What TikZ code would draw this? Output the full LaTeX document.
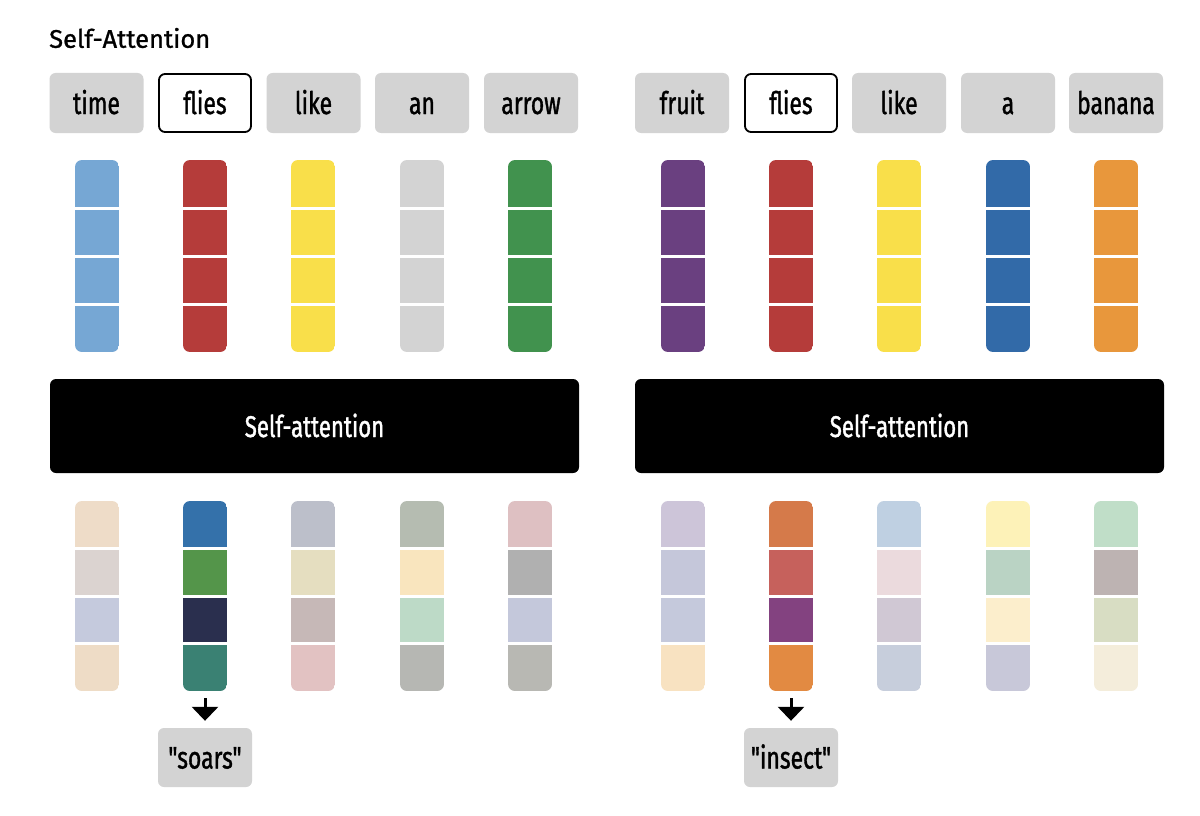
\documentclass[tikz,border=0pt]{standalone}
\usepackage{fontspec}
\setmainfont{Fira Sans}
\newfontfamily\titlefont[FakeBold=1.0]{Fira Sans}
\newfontfamily\condfont[FakeStretch=0.74, FakeBold=1.2]{Fira Sans}
\usetikzlibrary{arrows.meta}
\definecolor{tokgray}{HTML}{D3D3D3}
\tikzset{
  tokbox/.style={fill=tokgray, rounded corners=6pt, minimum width=94pt, minimum height=60pt,
    inner sep=0pt, text height=24pt, text depth=2pt, font=\condfont\fontsize{31}{31}\selectfont},
  hlbox/.style={tokbox, fill=white, draw=black, line width=1.8pt, minimum width=92pt, minimum height=58pt},
  attbox/.style={fill=black, rounded corners=6pt, minimum width=529pt, minimum height=94pt,
    text=white, inner sep=0pt, text height=24pt, text depth=2pt, font=\condfont\fontsize{30}{30}\selectfont},
  outarrow/.style={line width=3pt, -{Triangle[width=26pt,length=14pt]}, shorten <=7pt, shorten >=7pt},
}
% #1 name, #2 x center, #3 top y, #4 height, #5-#8 colours (top to bottom)
\newcommand\vectcol[8]{%
  \definecolor{vca}{HTML}{#5}\definecolor{vcb}{HTML}{#6}%
  \definecolor{vcc}{HTML}{#7}\definecolor{vcd}{HTML}{#8}%
  \begin{scope}
    \clip[rounded corners=7pt] (#2-22,#3) rectangle (#2+22,#3+#4);
    \fill[vca] (#2-22,#3) rectangle (#2+22,#3+#4/4);
    \fill[vcb] (#2-22,#3+#4/4) rectangle (#2+22,#3+#4/2);
    \fill[vcc] (#2-22,#3+#4/2) rectangle (#2+22,#3+3*#4/4);
    \fill[vcd] (#2-22,#3+3*#4/4) rectangle (#2+22,#3+#4);
    \draw[white, line width=3pt] (#2-23,#3+#4/4) -- (#2+23,#3+#4/4)
      (#2-23,#3+#4/2) -- (#2+23,#3+#4/2) (#2-23,#3+3*#4/4) -- (#2+23,#3+3*#4/4);
  \end{scope}
  \node[inner sep=0pt, minimum width=44pt, minimum height=#4 pt] (#1) at (#2,#3+#4/2) {};
}
\begin{document}
\begin{tikzpicture}[x=1pt,y=-1pt]
\useasboundingbox[fill=white] (0,0) rectangle (1200,816);
\node[anchor=west, inner sep=0pt, font=\titlefont\fontsize{25.5}{25.5}\selectfont] (title) at (49,38) {Self-Attention};
% tokens left
\node[tokbox] (t1) at (96.5,103) {time};
\node[hlbox]  (t2) at (205,103) {flies};
\node[tokbox] (t3) at (313.5,103) {like};
\node[tokbox] (t4) at (422,103) {an};
\node[tokbox] (t5) at (531,103) {arrow};
% tokens right
\node[tokbox] (r1) at (682,103) {fruit};
\node[hlbox]  (r2) at (791,103) {flies};
\node[tokbox] (r3) at (899,103) {like};
\node[tokbox] (r4) at (1008,103) {a};
\node[tokbox] (r5) at (1116,103) {banana};
% input vectors left
\vectcol{iv1}{97}{160}{192}{76A7D4}{76A7D4}{76A7D4}{76A7D4}
\vectcol{iv2}{205}{160}{192}{B53C3A}{B53C3A}{B53C3A}{B53C3A}
\vectcol{iv3}{313}{160}{192}{F9DF4A}{F9DF4A}{F9DF4A}{F9DF4A}
\vectcol{iv4}{422}{160}{192}{D3D3D3}{D3D3D3}{D3D3D3}{D3D3D3}
\vectcol{iv5}{530}{160}{192}{41924E}{41924E}{41924E}{41924E}
% input vectors right
\vectcol{jv1}{683}{160}{192}{6A4080}{6A4080}{6A4080}{6A4080}
\vectcol{jv2}{791}{160}{192}{B53C3A}{B53C3A}{B53C3A}{B53C3A}
\vectcol{jv3}{899}{160}{192}{F9DF4A}{F9DF4A}{F9DF4A}{F9DF4A}
\vectcol{jv4}{1008}{160}{192}{326AA8}{326AA8}{326AA8}{326AA8}
\vectcol{jv5}{1116}{160}{192}{E8973C}{E8973C}{E8973C}{E8973C}
% self-attention blocks
\node[attbox] (sa1) at (314.5,426) {Self-attention};
\node[attbox] (sa2) at (899.5,426) {Self-attention};
% output vectors left
\vectcol{ov1}{97}{501}{190}{EEDCC8}{DBD3D0}{C5CADD}{EEDCC6}
\vectcol{ov2}{205}{501}{190}{3471AA}{54954A}{2A2F4E}{3A8173}
\vectcol{ov3}{313}{501}{190}{BCBFCA}{E5DEC0}{C6B8B7}{E2C2C2}
\vectcol{ov4}{422}{501}{190}{B5BCB1}{F9E5BE}{BDDAC7}{B6B7B3}
\vectcol{ov5}{530}{501}{190}{DEC0C2}{B0B0B0}{C4C8DB}{B8B8B3}
% output vectors right
\vectcol{pv1}{683}{501}{190}{CDC5D9}{C5C7DA}{C5C9DC}{F8E2C1}
\vectcol{pv2}{791}{501}{190}{D57A4A}{C6615C}{834280}{E28A42}
\vectcol{pv3}{899}{501}{190}{BFD0E2}{EBDADD}{D0C8D4}{C7CEDC}
\vectcol{pv4}{1008}{501}{190}{FDF2B8}{BAD3C4}{FCEECC}{C8C8D9}
\vectcol{pv5}{1116}{501}{190}{C0DEC8}{BDB3B2}{D8DDC3}{F4EDDB}
% predictions
\node[tokbox, minimum height=59pt] (soars) at (205,757.5) {"soars"};
\node[tokbox, minimum height=59pt] (insect) at (791,757.5) {"insect"};
\draw[outarrow] (ov2.south) -- (soars.north);
\draw[outarrow] (pv2.south) -- (insect.north);
\end{tikzpicture}
\end{document}
